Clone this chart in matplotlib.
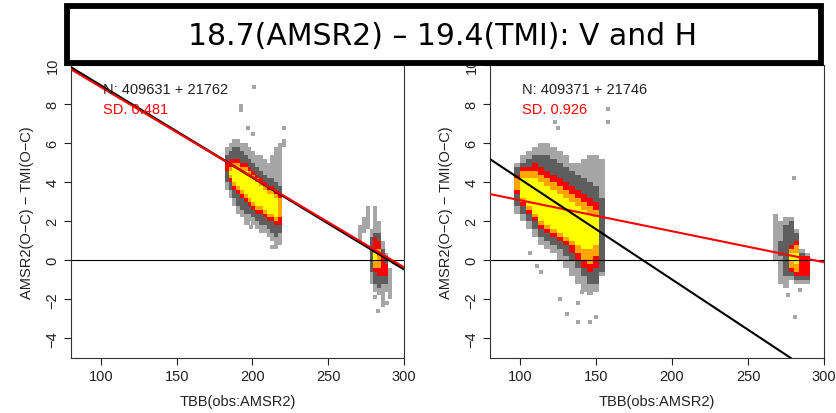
import numpy as np
import matplotlib
matplotlib.use("Agg")
import matplotlib.pyplot as plt
from matplotlib.colors import ListedColormap, BoundaryNorm
from matplotlib.patches import Rectangle

plt.rcParams['font.family'] = ['Liberation Sans', 'DejaVu Sans']

title = "18.7(AMSR2) \u2013 19.4(TMI): V and H"
xlabel = "TBB(obs:AMSR2)"
ylabel = "AMSR2(O\u2212C) \u2212 TMI(O\u2212C)"
n_text = ["N: 409631 + 21762", "N: 409371 + 21746"]
sd_text = ["SD. 0.481", "SD. 0.926"]

# fitted lines: (intercept at x=0, slope)
fit_black = [(13.66, -0.04705), (9.32, -0.0515)]
fit_red = [(13.49, -0.04614), (4.673, -0.0159)]

# density columns: x, then (lo, hi) for light grey, dark grey, red, orange, yellow
nan = np.nan
left_main = [
    (183.0, 3.6, 5.8, 4.0, 5.4, 4.6, 5.0, nan, nan, nan, nan),
    (185.5, 3.2, 6.0, 3.6, 5.6, 4.0, 5.2, 4.2, 4.8, 4.4, 4.6),
    (188.0, 2.8, 6.2, 3.2, 5.8, 3.6, 5.2, 3.8, 5.0, 4.0, 4.8),
    (190.5, 2.4, 6.2, 2.8, 5.8, 3.4, 5.2, 3.6, 5.0, 3.8, 4.8),
    (193.0, 2.2, 6.0, 2.6, 5.6, 3.2, 5.0, 3.4, 4.8, 3.6, 4.6),
    (195.5, 1.8, 6.0, 2.4, 5.4, 3.0, 5.0, 3.2, 4.8, 3.4, 4.6),
    (198.0, 2.0, 5.8, 2.4, 5.2, 2.8, 4.8, 3.0, 4.6, 3.2, 4.4),
    (200.5, 1.8, 5.6, 2.2, 5.0, 2.6, 4.6, 2.8, 4.4, 3.0, 4.2),
    (203.0, 1.6, 5.4, 2.0, 4.8, 2.4, 4.4, 2.6, 4.2, 2.8, 4.0),
    (205.5, 1.4, 5.4, 1.8, 4.6, 2.4, 4.2, 2.6, 4.0, 2.8, 3.8),
    (208.0, 1.4, 5.2, 1.8, 4.4, 2.2, 4.0, 2.4, 3.8, 2.6, 3.6),
    (210.5, 1.2, 5.0, 1.6, 4.2, 2.0, 3.8, 2.2, 3.6, 2.4, 3.4),
    (213.0, 1.0, 5.4, 1.4, 4.2, 2.0, 3.8, 2.2, 3.6, 2.4, 3.4),
    (215.5, 0.6, 5.8, 1.2, 4.0, 1.8, 3.6, 2.0, 3.4, 2.2, 3.2),
    (218.0, 0.8, 6.0, 1.4, 3.8, 1.8, 3.4, 2.2, 3.2, nan, nan),
]
left_warm = [
    (271.0, 1.0, 1.8, nan, nan, nan, nan, nan, nan, nan, nan),
    (273.5, 1.4, 2.2, nan, nan, nan, nan, nan, nan, nan, nan),
    (276.0, 1.6, 2.8, nan, nan, nan, nan, nan, nan, nan, nan),
    (278.5, -1.2, 1.6, -0.6, 1.2, nan, nan, nan, nan, nan, nan),
    (281.0, -1.6, 2.8, -1.2, 1.4, -0.6, 1.2, -0.4, 0.6, 0.0, 0.4),
    (283.5, -1.8, 2.0, -1.4, 1.4, -0.8, 1.0, -0.4, 0.6, nan, nan),
    (286.0, -2.4, 1.0, -1.2, 0.6, -0.8, 0.2, nan, nan, nan, nan),
    (288.5, -1.6, 0.4, -1.2, 0.2, -0.8, -0.2, nan, nan, nan, nan),
    (291.0, -2.0, -0.4, nan, nan, nan, nan, nan, nan, nan, nan),
]
right_main = [
    (98.0, 2.4, 5.0, 2.8, 4.8, 3.4, 4.4, 3.6, 4.2, nan, nan),
    (102.0, 2.0, 5.4, 2.4, 5.0, 2.8, 4.8, 3.0, 4.6, 3.2, 4.2),
    (106.0, 1.6, 5.6, 2.0, 5.2, 2.4, 4.8, 2.6, 4.6, 2.8, 4.2),
    (110.0, 1.2, 5.8, 1.6, 5.4, 2.0, 5.0, 2.2, 4.6, 2.4, 4.2),
    (114.0, 0.8, 6.0, 1.2, 5.4, 1.6, 4.8, 1.8, 4.4, 2.0, 4.0),
    (118.0, 0.6, 6.0, 1.0, 5.4, 1.4, 4.6, 1.6, 4.2, 1.8, 3.8),
    (122.0, 0.4, 5.8, 0.8, 5.2, 1.2, 4.4, 1.4, 4.0, 1.6, 3.6),
    (126.0, 0.0, 5.6, 0.6, 5.0, 1.0, 4.2, 1.2, 3.8, 1.4, 3.4),
    (130.0, -0.4, 5.4, 0.2, 4.8, 0.8, 4.0, 1.0, 3.6, 1.2, 3.2),
    (134.0, -0.8, 5.0, 0.0, 4.6, 0.4, 3.8, 0.8, 3.4, 1.0, 3.0),
    (138.0, -1.2, 5.0, -0.4, 4.4, 0.0, 3.6, 0.4, 3.2, 0.8, 2.8),
    (142.0, -1.6, 5.2, -0.8, 4.2, -0.4, 3.4, 0.0, 3.0, 0.6, 2.6),
    (146.0, -1.8, 5.4, -1.2, 4.0, -0.6, 3.2, -0.2, 2.8, 0.6, 2.4),
    (150.0, -1.6, 5.4, -1.2, 3.8, -0.4, 3.0, 0.2, 2.6, 0.8, 2.2),
    (154.0, -0.8, 5.2, -0.6, 3.2, nan, nan, nan, nan, nan, nan),
]
right_warm = [
    (268.0, 0.0, 2.4, nan, nan, nan, nan, nan, nan, nan, nan),
    (271.5, -1.2, 2.0, 0.2, 1.0, nan, nan, nan, nan, nan, nan),
    (275.0, -1.4, 2.2, -0.8, 1.8, nan, nan, nan, nan, nan, nan),
    (278.5, -1.0, 2.2, -0.8, 2.0, -0.6, 0.8, -0.4, 0.6, 0.0, 0.4),
    (282.0, -1.2, 1.6, -1.0, 1.4, -0.8, 1.0, -0.6, 0.8, -0.2, 0.4),
    (285.5, -1.2, 0.6, -1.0, 0.4, -0.8, 0.2, nan, nan, nan, nan),
    (289.0, -1.2, 0.4, -1.0, 0.2, -0.8, 0.2, nan, nan, nan, nan),
]

# isolated single cells
left_out_x = [201, 192.5, 192.5, 197, 200.5, 221, 221, 221, 197, 199, 213, 283, 286, 289, 281]
left_out_y = [8.9, 7.7, 7.9, 6.8, 6.5, 6.8, 6.1, 5.9, 1.9, 1.7, 0.7, -2.6, -2.2, -2.2, -1.9]
right_out_x = [123, 125, 158, 158, 280, 106.6, 111, 114, 126, 131, 138, 146, 150, 138, 141, 276, 281, 284]
right_out_y = [7.1, 6.8, 7.75, 7.1, 4.2, 0.4, -0.3, -0.6, -2.0, -2.75, -3.15, -3.15, -2.9, -2.2, -1.6, -1.8, -2.9, -1.5]

level_colors = ['#a6a6a6', '#5e5e5e', '#ff0000', '#ffa500', '#ffff00']
cmap = ListedColormap(level_colors)
norm = BoundaryNorm([0.5, 1.5, 2.5, 3.5, 4.5, 5.5], cmap.N)
yedges = np.arange(-5.0, 10.001, 0.2)


def draw_cluster(ax, cols, width):
    cols = np.array(cols, dtype=float)
    xc = cols[:, 0]
    xedges = np.append(xc - width / 2, xc[-1] + width / 2)
    yc = (yedges[:-1] + yedges[1:]) / 2
    grid = np.zeros((len(yc), len(xc)))
    for j in range(len(xc)):
        for lev in range(5):
            lo, hi = cols[j, 1 + 2 * lev], cols[j, 2 + 2 * lev]
            if np.isnan(lo):
                continue
            grid[(yc > lo) & (yc < hi), j] = lev + 1
    grid = np.ma.masked_equal(grid, 0)
    ax.pcolormesh(xedges, yedges, grid, cmap=cmap, norm=norm, zorder=1)


fig = plt.figure(figsize=(8.37, 4.14), dpi=100)
axL = fig.add_axes([0.0844, 0.133, 0.3983, 0.707])
axR = fig.add_axes([0.585, 0.133, 0.3995, 0.707])

panels = [
    (axL, [(left_main, 2.5), (left_warm, 2.5)], left_out_x, left_out_y),
    (axR, [(right_main, 4.0), (right_warm, 3.5)], right_out_x, right_out_y),
]
for i, (ax, clusters, ox, oy) in enumerate(panels):
    for cols, w in clusters:
        draw_cluster(ax, cols, w)
    ax.scatter(ox, oy, marker='s', s=10, color=level_colors[0], linewidths=0, zorder=1)
    ax.axhline(0, color='black', lw=0.8, zorder=2)
    if i == 0:
        ax.axline((0, fit_black[i][0]), slope=fit_black[i][1], color='black', lw=1.8, zorder=3)
        ax.axline((0, fit_red[i][0]), slope=fit_red[i][1], color='red', lw=1.5, zorder=4)
    else:
        ax.axline((0, fit_red[i][0]), slope=fit_red[i][1], color='red', lw=1.5, zorder=3)
        ax.axline((0, fit_black[i][0]), slope=fit_black[i][1], color='black', lw=1.5, zorder=4)
    ax.text(101.3, 8.8, n_text[i], fontsize=10.5, color='#222222', va='center', zorder=5)
    ax.text(101.3, 7.75, sd_text[i], fontsize=10.5, color='red', va='center', zorder=5)
    ax.set_xlim(80, 300)
    ax.set_ylim(-5, 10)
    ax.set_xticks([100, 150, 200, 250, 300])
    ax.set_yticks([-4, -2, 0, 2, 4, 6, 8, 10])
    ax.tick_params(length=5, width=0.8, labelsize=10.5, pad=3, colors='#222222')
    for lbl in ax.get_yticklabels():
        lbl.set_rotation(90)
        lbl.set_va('center')
    for s in ax.spines.values():
        s.set_linewidth(0.8)
        s.set_color('#333333')
    ax.set_xlabel(xlabel, fontsize=10.5, labelpad=8, color='#222222')
    ax.set_ylabel(ylabel, fontsize=10.5, labelpad=8, color='#222222')

fig.add_artist(Rectangle((0.0806, 0.8454), 0.8997, 0.1365, transform=fig.transFigure,
                         facecolor='white', edgecolor='black', lw=4.2, zorder=10))
fig.text(0.529, 0.913, title, family='DejaVu Sans', fontsize=21.5, ha='center', va='center', zorder=11)

fig.savefig("out.png", dpi=100)
